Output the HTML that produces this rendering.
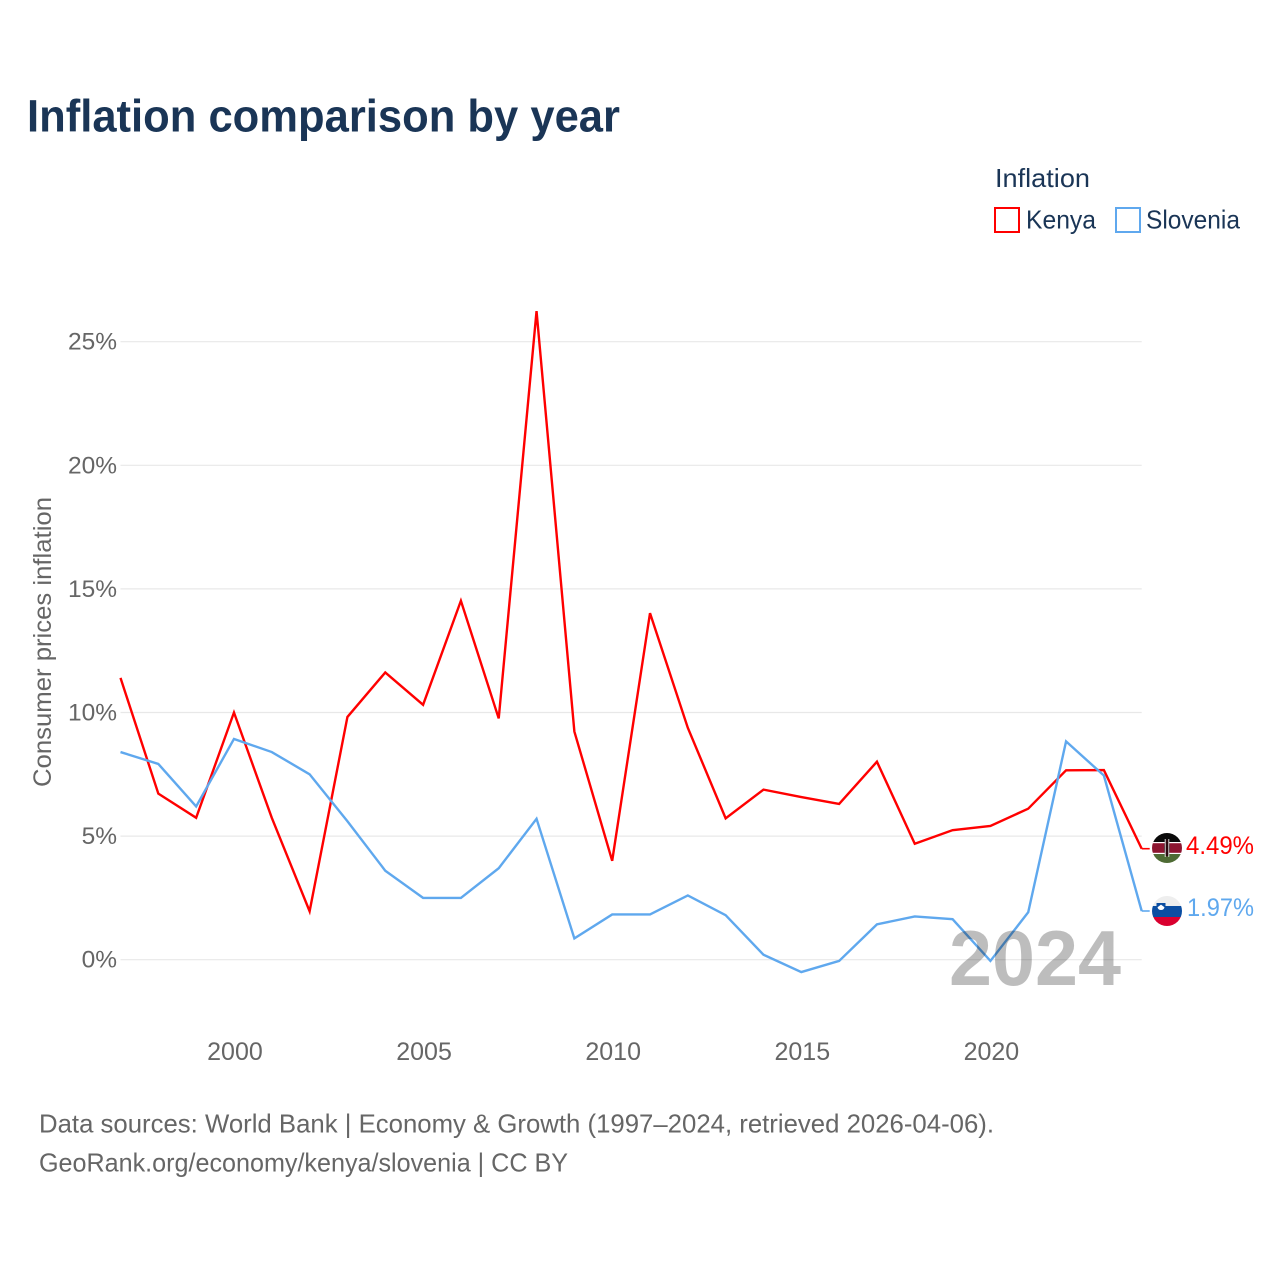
<!DOCTYPE html>
<html lang="en">
<head>
<meta charset="utf-8">
<title>Inflation comparison by year</title>
<style>
html,body{margin:0;padding:0;background:#fff;width:1280px;height:1280px;overflow:hidden}
svg{display:block}
text{font-family:"Liberation Sans",sans-serif}
</style>
</head>
<body>
<svg id="chart" width="1280" height="1280" viewBox="0 0 1280 1280" xmlns="http://www.w3.org/2000/svg">
  <defs>
    <clipPath id="clip-flag"><circle cx="0" cy="0" r="15"></circle></clipPath>
  </defs>
  <text x="27" y="131.5" font-size="45" font-weight="700" fill="#1a3556" textLength="593" lengthAdjust="spacingAndGlyphs">Inflation comparison by year</text>

  <g>
    <text x="995" y="187" font-size="26" fill="#1a3556" textLength="95" lengthAdjust="spacingAndGlyphs">Inflation</text>
    <g>
      <rect x="995" y="208" width="24" height="24" fill="#fff" stroke="#ff0000" stroke-width="2"></rect>
      <text x="1026" y="228.5" font-size="26" fill="#1a3556" textLength="70" lengthAdjust="spacingAndGlyphs">Kenya</text>
    </g>
    <g>
      <rect x="1116" y="208" width="24" height="24" fill="#fff" stroke="#5fa8ee" stroke-width="2"></rect>
      <text x="1146" y="228.5" font-size="26" fill="#1a3556" textLength="94" lengthAdjust="spacingAndGlyphs">Slovenia</text>
    </g>
  </g>

  <g id="grid"></g>
  <g id="y-ticks"></g>
  <g id="x-ticks"></g>
  <text transform="translate(51,787) rotate(-90)" font-size="25" fill="#666666" textLength="290" lengthAdjust="spacingAndGlyphs">Consumer prices inflation</text>
  <g id="series"></g>
  <text x="949" y="985" font-size="78" font-weight="700" fill="#000" fill-opacity="0.26" textLength="172" lengthAdjust="spacingAndGlyphs">2024</text>
  <g id="end-labels"></g>

  <text x="39" y="1132.5" font-size="26" fill="#666666" textLength="955" lengthAdjust="spacingAndGlyphs">Data sources: World Bank | Economy &amp; Growth (1997–2024, retrieved 2026-04-06).</text>
  <text x="39" y="1171.5" font-size="26" fill="#666666" textLength="529" lengthAdjust="spacingAndGlyphs">GeoRank.org/economy/kenya/slovenia | CC BY</text>
</svg>
<script>
const years = [1997,1998,1999,2000,2001,2002,2003,2004,2005,2006,2007,2008,2009,2010,2011,2012,2013,2014,2015,2016,2017,2018,2019,2020,2021,2022,2023,2024];
const kenyaValues = [11.4,6.72,5.74,10.0,5.74,1.96,9.82,11.62,10.31,14.52,9.76,26.24,9.23,4.0,14.02,9.38,5.72,6.88,6.58,6.3,8.01,4.69,5.24,5.41,6.11,7.66,7.67,4.49];
const sloveniaValues = [8.4,7.92,6.2,8.93,8.4,7.5,5.6,3.6,2.5,2.5,3.7,5.7,0.86,1.83,1.83,2.6,1.8,0.2,-0.5,-0.05,1.43,1.75,1.64,-0.05,1.92,8.83,7.45,1.97];
const yTickValues = [0,5,10,15,20,25];
const xTickValues = [2000,2005,2010,2015,2020];

const NS = 'http://www.w3.org/2000/svg';
const xScale = function (year) { return 120.5 + (year - 1997) * (1141.7 - 120.5) / 27; };
const yScale = function (value) { return 959.7 - value * 24.72; };

function make(tag, parent, props) {
  const el = document.createElementNS(NS, tag);
  for (const key in props) { el.setAttribute(key, props[key]); }
  parent.appendChild(el);
  return el;
}

const gridGroup = document.getElementById('grid');
const yTickGroup = document.getElementById('y-ticks');
yTickValues.forEach(function (v) {
  const line = make('line', gridGroup, { x1: 120.5, x2: 1141.7, y1: yScale(v), y2: yScale(v), stroke: '#e8e8e8', 'stroke-width': 1.2 });
  
  
  const label = make('text', yTickGroup, { x: 117, y: yScale(v) + 8, 'text-anchor': 'end', 'font-size': 24.5, fill: '#666666' });
  label.textContent = v + '%';
  
  
});

const xTickGroup = document.getElementById('x-ticks');
xTickValues.forEach(function (year) {
  const label = make('text', xTickGroup, { x: xScale(year) + 1, y: 1060, 'text-anchor': 'middle', 'font-size': 25, fill: '#666666' });
  label.textContent = year;
  
  
});

function drawLine(values, color, name) {
  const group = document.getElementById('series');
  const pts = values.map(function (v, i) { return xScale(years[i]).toFixed(2) + ',' + yScale(v).toFixed(2); });
  const line = make('polyline', group, { points: pts.join(' '), fill: 'none', stroke: color, 'stroke-width': 2.4, 'stroke-linejoin': 'miter' });
  
  
  const lastY = yScale(values[values.length - 1]);
  const stub = make('line', group, { x1: xScale(2024), x2: xScale(2024) + 8, y1: lastY, y2: lastY, stroke: color, 'stroke-width': 1.6 });
  
  
}
drawLine(kenyaValues, '#ff0000', 'kenya-line');
drawLine(sloveniaValues, '#5fa8ee', 'slovenia-line');

function band(parent, y, h, fill) {
  make('rect', parent, { x: -16, y: y, width: 32, height: h, fill: fill });
}

const endGroup = document.getElementById('end-labels');
const kenyaLast = kenyaValues[kenyaValues.length - 1];
const sloveniaLast = sloveniaValues[sloveniaValues.length - 1];

const kenyaFlag = make('g', endGroup, { transform: 'translate(' + (xScale(2024) + 25.3) + ',' + (yScale(kenyaLast) - 0.7) + ')', 'clip-path': 'url(#clip-flag)' });


band(kenyaFlag, -16, 10, '#0a0a0a');
band(kenyaFlag, -6, 12, '#ffffff');
band(kenyaFlag, -4.8, 9.6, '#8c1530');
band(kenyaFlag, 6, 10, '#4e6b34');
make('ellipse', kenyaFlag, { cx: 0, cy: 0, rx: 3, ry: 8.5, fill: '#2a0a10' });
make('line', kenyaFlag, { x1: -1.8, x2: -1.8, y1: -9, y2: 9, stroke: '#eeeeee', 'stroke-width': 0.9 });
make('line', kenyaFlag, { x1: 1.8, x2: 1.8, y1: -9, y2: 9, stroke: '#eeeeee', 'stroke-width': 0.9 });

const kenyaValueLabel = make('text', endGroup, { x: 1186, y: yScale(kenyaLast) + 5.5, 'font-size': 25, fill: '#ff0000', textLength: 68, lengthAdjust: 'spacingAndGlyphs' });
kenyaValueLabel.textContent = kenyaLast.toFixed(2) + '%';



const sloveniaFlag = make('g', endGroup, { transform: 'translate(' + (xScale(2024) + 25.3) + ',' + yScale(sloveniaLast) + ')', 'clip-path': 'url(#clip-flag)' });


band(sloveniaFlag, -16, 11, '#eeeeee');
band(sloveniaFlag, -5, 11, '#0b4ea2');
band(sloveniaFlag, 6, 11, '#d9002f');
make('path', sloveniaFlag, { d: 'M-10.5,-8 h9 v4.5 a4.5,4.5 0 0 1 -9,0 z', fill: '#0b4ea2' });
make('path', sloveniaFlag, { d: 'M-9.5,-3.8 l3.5,-2.6 l3.5,2.6 a3.6,3.6 0 0 1 -7,0 z', fill: '#ffffff' });

const sloveniaValueLabel = make('text', endGroup, { x: 1187, y: yScale(sloveniaLast) + 5, 'font-size': 25, fill: '#5fa8ee', textLength: 67, lengthAdjust: 'spacingAndGlyphs' });
sloveniaValueLabel.textContent = sloveniaLast.toFixed(2) + '%';


</script>
</body>
</html>
